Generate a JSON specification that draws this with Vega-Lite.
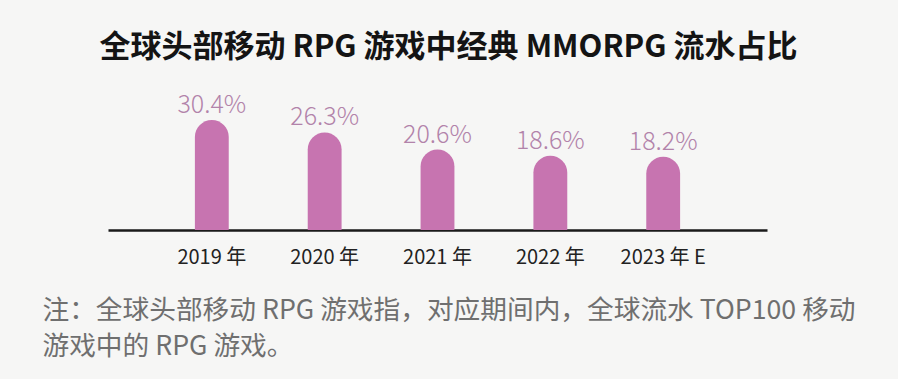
{
  "$schema": "https://vega.github.io/schema/vega-lite/v6.json",
  "width": 659,
  "height": 139,
  "autosize": {"type": "none"},
  "padding": {"left": 108, "top": 91, "right": 131, "bottom": 149},
  "background": "#f6f6f5",
  "config": {
    "view": {"stroke": null},
    "font": "Noto Sans CJK SC"
  },
  "title": {
    "text": "全球头部移动 RPG 游戏中经典 MMORPG 流水占比",
    "font": "Noto Sans CJK SC",
    "fontSize": 31,
    "fontWeight": "bold",
    "color": "#141414",
    "anchor": "middle",
    "frame": "group",
    "baseline": "bottom",
    "dx": 11,
    "offset": -4
  },
  "data": {
    "values": [
      {"year": "2019 年", "share": 30.4, "label": "30.4%"},
      {"year": "2020 年", "share": 26.3, "label": "26.3%"},
      {"year": "2021 年", "share": 20.6, "label": "20.6%"},
      {"year": "2022 年", "share": 18.6, "label": "18.6%"},
      {"year": "2023 年 E", "share": 18.2, "label": "18.2%"}
    ]
  },
  "encoding": {
    "x": {
      "field": "year",
      "type": "nominal",
      "sort": null,
      "scale": {"paddingInner": 0.7, "paddingOuter": 0.77},
      "axis": {
        "title": ["注：全球头部移动 RPG 游戏指，对应期间内，全球流水 TOP100 移动", "游戏中的 RPG 游戏。"],
        "titleFont": "Noto Sans CJK SC",
        "titleFontSize": 26.7,
        "titleFontWeight": "normal",
        "titleColor": "#6f6f6f",
        "titleAnchor": "start",
        "titleAlign": "left",
        "titleBaseline": "top",
        "titleLineHeight": 36,
        "titleX": -66,
        "titleY": 67,
        "labelAngle": 0,
        "labelFontSize": 20,
        "labelColor": "#222222",
        "labelPadding": 17,
        "ticks": false,
        "domainColor": "#1a1a1a",
        "domainWidth": 2.5
      }
    },
    "y": {
      "field": "share",
      "type": "quantitative",
      "scale": {"domain": [-6, 40], "zero": false, "nice": false},
      "axis": null
    }
  },
  "layer": [
    {
      "mark": {"type": "bar", "color": "#c774b0", "cornerRadiusTopLeft": 17, "cornerRadiusTopRight": 17},
      "encoding": {"y2": {"datum": -6}}
    },
    {
      "mark": {"type": "text", "fontSize": 25, "fontWeight": 300, "color": "#b283aa", "baseline": "middle", "dy": -15},
      "encoding": {"text": {"field": "label"}}
    }
  ]
}
